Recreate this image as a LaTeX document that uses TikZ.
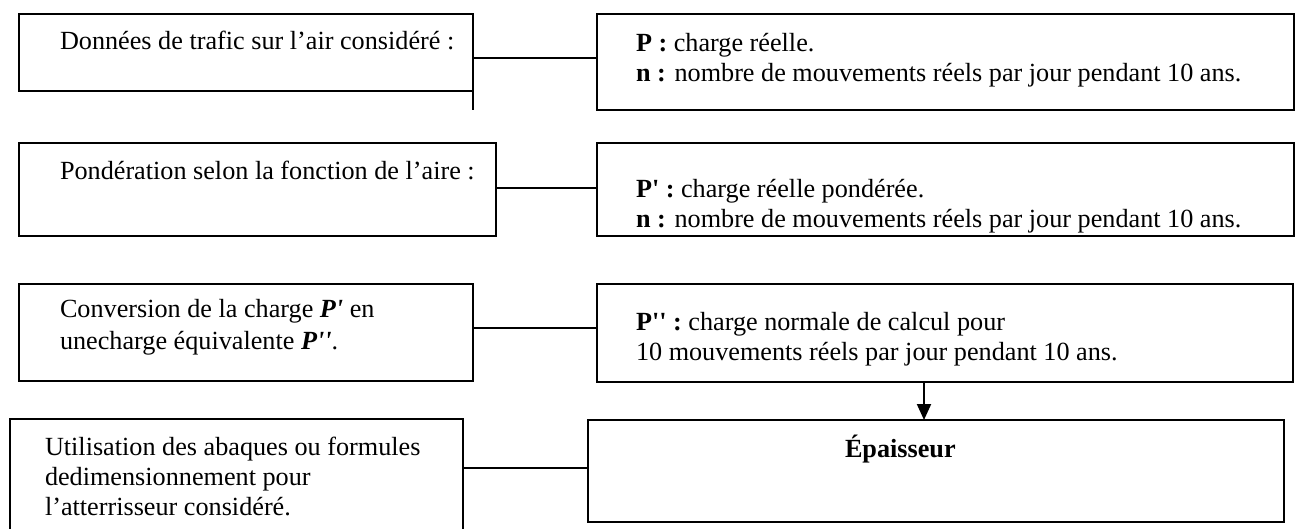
\documentclass[tikz,border=0pt]{standalone}
\usepackage{fontspec}
\setmainfont{Liberation Serif}[Ligatures=TeXOff]
\usetikzlibrary{arrows.meta}
\begin{document}
\begin{tikzpicture}[x=1pt,y=-1pt,
  box/.style={draw, line width=2pt, inner sep=0pt, outer sep=0pt, anchor=north west},
  txt/.style={anchor=base west, inner sep=0pt, outer sep=0pt, font=\fontsize{26.2}{30}\selectfont},
  link/.style={line width=2pt}]
\useasboundingbox (0,0) rectangle (1299,529);
% boxes
\node[box, minimum width=454pt, minimum height=77pt] (a1) at (19,14) {};
\node[box, minimum width=697pt, minimum height=96pt] (b1) at (597,14) {};
\node[box, minimum width=477pt, minimum height=93pt] (a2) at (19,143) {};
\node[box, minimum width=697pt, minimum height=93pt] (b2) at (597,143) {};
\node[box, minimum width=454pt, minimum height=97pt] (a3) at (19,284) {};
\node[box, minimum width=696pt, minimum height=98pt] (b3) at (597,284) {};
\node[box, draw=none, minimum width=453pt, minimum height=110pt] (a4) at (10,419) {};
\node[box, minimum width=696pt, minimum height=102pt] (b4) at (588,420) {};
\draw[link] (a4.south west) -- (a4.north west) -- (a4.north east) -- (a4.south east);
% texts
\node[txt] (a1t) at (60,50) {Données de trafic sur l’air considéré :};
\node[txt] (b1t1) at (636,52) {\textbf{P :} charge réelle.};
\node[txt] (b1t2) at (636,82) {\textbf{n :} nombre de mouvements réels par jour pendant 10 ans.};
\node[txt] (a2t) at (60,180) {Pondération selon la fonction de l’aire :};
\node[txt] (b2t1) at (636,198) {\textbf{P' :} charge réelle pondérée.};
\node[txt] (b2t2) at (636,228) {\textbf{n :} nombre de mouvements réels par jour pendant 10 ans.};
\node[txt] (a3t1) at (60,318) {Conversion de la charge \textbf{\textit{P'}} en};
\node[txt] (a3t2) at (60,349) {unecharge équivalente \textbf{\textit{P''}}.};
\node[txt] (b3t1) at (636,331) {\textbf{P'' :} charge normale de calcul pour};
\node[txt] (b3t2) at (636,361) {10 mouvements réels par jour pendant 10 ans.};
\node[txt] (a4t1) at (45,455) {Utilisation des abaques ou formules};
\node[txt] (a4t2) at (45,485) {dedimensionnement pour};
\node[txt] (a4t3) at (45,515) {l’atterrisseur considéré.};
\node[txt] (b4t) at (845,457) {\textbf{Épaisseur}};
% connectors
\coordinate (r1) at (0,58);
\coordinate (r2) at (0,188);
\coordinate (r3) at (0,328);
\coordinate (r4) at (0,468);
\coordinate (ax) at (924,0);
\draw[link] (a1.east |- r1) -- (b1.west |- r1);
\draw[link] (a1.south east) -- ++(0,19);
\draw[link] (a2.east |- r2) -- (b2.west |- r2);
\draw[link] (a3.east |- r3) -- (b3.west |- r3);
\draw[link] (a4.east |- r4) -- (b4.west |- r4);
\draw[link, -{Triangle[length=16pt,width=14pt]}] (b3.south -| ax) -- (b4.north -| ax);
\end{tikzpicture}
\end{document}
